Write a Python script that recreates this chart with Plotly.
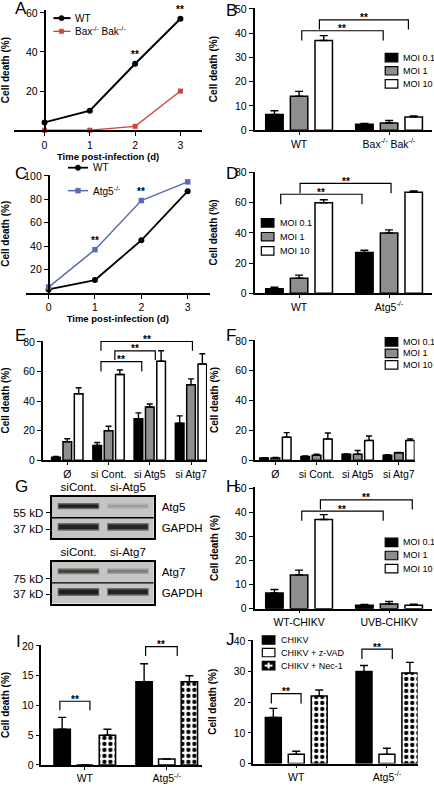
import plotly.graph_objects as go

W, H = 434, 787
FONT = "Liberation Sans, Arial, Helvetica, sans-serif"

# ---------------- data ----------------
time_days = [0, 1, 2, 3]
a_wt = [4, 10, 34, 57]
a_baxbak = [0, 0, 2, 20]
a_sig_days = [2, 3]
c_wt = [3, 11, 45, 87]
c_atg5 = [5, 37, 79, 95]
c_sig_days = [1, 2]

moi_labels = ["MOI 0.1", "MOI 1", "MOI 10"]

b_groups = ["WT", "Bax<sup>-/-</sup> Bak<sup>-/-</sup>"]
b_vals = [[6.5, 2.5], [14, 3], [37, 5.5]]
b_err = [[1.5, 0.3], [2, 1], [2, 0.4]]

d_groups = ["WT", "Atg5<sup>-/-</sup>"]
d_vals = [[3, 27], [10, 40], [60, 67]]
d_err = [[1, 1.5], [2, 2], [2, 0.8]]

e_groups = ["Ø", "si Cont.", "si Atg5", "si Atg7"]
e_vals = [[2, 10, 28, 25], [12.5, 20, 36, 51], [45, 58, 67, 65]]
e_err = [[0.5, 2, 4, 5], [2, 3, 2, 4], [4, 3, 7, 7]]

f_groups = ["Ø", "si Cont.", "si Atg5", "si Atg7"]
f_vals = [[1.5, 2.5, 4, 3.3], [1.5, 3.3, 4, 5], [15.5, 14.3, 13.3, 13.3]]
f_err = [[0.2, 0.4, 0.2, 0.4], [0.3, 0.7, 2.5, 0.2], [3, 4, 3, 1]]

h_groups = ["WT-CHIKV", "UVB-CHIKV"]
h_vals = [[6.5, 1.5], [14, 2], [37, 1.5]]
h_err = [[1.5, 0.3], [2, 1], [2, 0.4]]

trt_labels = ["CHIKV", "CHIKV + z-VAD", "CHIKV + Nec-1"]
i_groups = ["WT", "Atg5<sup>-/-</sup>"]
i_vals = [[6, 14], [0, 1], [5, 14]]
i_err = [[2, 3], [0, 0], [1, 1]]
j_groups = ["WT", "Atg5<sup>-/-</sup>"]
j_vals = [[15, 30], [3, 3], [22, 29.5]]
j_err = [[3, 2], [1, 2], [2, 3.5]]

# significance brackets: (x_left, x_right, y_top, y_foot) in data units
b_brackets = [(0.03, 0.935, 41.0, 37.0), (0.226, 1.215, 45.5, 41.5)]
d_brackets = [(-0.204, 0.699, 65.6, 59.0), (0.011, 1.022, 72.8, 66.3)]
e_brackets = [(0.816, 3.035, 80.3, 74.0), (1.153, 2.134, 74.0, 67.8), (0.816, 1.805, 66.7, 60.0)]
h_brackets = [(0.03, 0.935, 40.5, 36.5), (0.237, 1.258, 45.1, 41.1)]
i_brackets = [(-0.304, 0.063, 10.7, 9.2), (0.742, 1.128, 19.9, 18.3)]
j_brackets = [(-0.275, 0.053, 22.8, 19.6), (0.724, 1.059, 37.3, 34.1)]

# western blots (G)
g1_lanes = ["siCont.", "si-Atg5"]
g1_rows = ["Atg5", "GAPDH"]
g1_markers = ["55 kD", "37 kD"]
g1_marker_pos = [0.74, -0.06]
g1_intensity = [[0.97, 0.22], [0.95, 0.93]]   # rows x lanes
g2_lanes = ["siCont.", "si-Atg7"]
g2_rows = ["Atg7", "GAPDH"]
g2_markers = ["75 kD", "37 kD"]
g2_marker_pos = [0.70, -0.06]
g2_intensity = [[0.78, 0.42], [0.97, 0.95]]

# ---------------- styling helpers ----------------
def xd(p0, p1):
    return [p0 / W, p1 / W]

def yd(top, bot):
    return [1 - bot / H, 1 - top / H]

def px(p):
    return p / W

def py(p):
    return 1 - p / H

AXL = dict(showline=True, linecolor="black", linewidth=1.5, showgrid=False, zeroline=False,
           ticks="outside", tickcolor="black", tickwidth=1.3, fixedrange=True,
           tickfont=dict(family=FONT, size=10.5, color="black"))
YTITLE = dict(text="Cell death (%)", font=dict(family=FONT, size=10, color="black", weight="bold"))
XTITLE = dict(text="Time post-infection (d)", standoff=3,
              font=dict(family=FONT, size=9.5, color="black", weight="bold"))

fig = go.Figure()
lay = {}
shapes = []
annotations = []

BAR_FILLS = ["#000000", "#8e8e8e", "#ffffff"]
STAR_FONT = dict(family=FONT, size=10, color="black", weight="bold")


def add_bars(n, groups, vals, errs, bw, centers, fills, capw=4, pattern_idx=None):
    xs = list(range(len(groups)))
    for k in range(len(vals)):
        marker = dict(color=fills[k], line=dict(color="black", width=1.5))
        if pattern_idx is not None and k == pattern_idx:
            marker["pattern"] = dict(shape=".", fgcolor="black", bgcolor="white", size=6,
                                     solidity=0.4, fillmode="replace")
        fig.add_trace(go.Bar(
            x=xs, y=vals[k], width=bw, offset=centers[k] - bw / 2,
            marker=marker,
            error_y=dict(type="data", array=errs[k], arrayminus=[0] * len(xs), symmetric=False,
                         color="black", thickness=1.4, width=capw),
            xaxis="x" + str(n), yaxis="y" + str(n), showlegend=False, hoverinfo="skip"))


def add_brackets(n, brackets):
    for (x0, x1, yt, yf) in brackets:
        shapes.append(dict(type="path", xref="x" + str(n), yref="y" + str(n),
                           path=f"M {x0},{yf} L {x0},{yt} L {x1},{yt} L {x1},{yf}",
                           line=dict(color="black", width=1.2)))
        annotations.append(dict(text="**", x=(x0 + x1) / 2, y=yt, xref="x" + str(n), yref="y" + str(n),
                                showarrow=False, xanchor="center", yanchor="middle", yshift=2,
                                font=STAR_FONT))


def bar_legend(labels, fills, x_sw, ys, x_txt, special_last=False):
    for i, (lab, fill, yc) in enumerate(zip(labels, fills, ys)):
        shapes.append(dict(type="rect", xref="paper", yref="paper", x0=px(x_sw), x1=px(x_sw + 13),
                           y0=py(yc + 4.3), y1=py(yc - 4.3), fillcolor=fill,
                           line=dict(color="black", width=1.2)))
        if special_last and i == len(labels) - 1:
            shapes.append(dict(type="line", xref="paper", yref="paper", x0=px(x_sw + 2.5), x1=px(x_sw + 10.5),
                               y0=py(yc), y1=py(yc), line=dict(color="white", width=2)))
            shapes.append(dict(type="line", xref="paper", yref="paper", x0=px(x_sw + 6.5), x1=px(x_sw + 6.5),
                               y0=py(yc + 3), y1=py(yc - 3), line=dict(color="white", width=2)))
        annotations.append(dict(text=lab, x=px(x_txt), y=py(yc), xref="paper", yref="paper",
                                xanchor="left", yanchor="middle", showarrow=False,
                                font=dict(family=FONT, size=9, color="black")))


def line_legend(entries, x0, x1, xm, x_txt):
    for (lab, color, width, symbol, yc, msize) in entries:
        shapes.append(dict(type="line", xref="paper", yref="paper", x0=px(x0), x1=px(x1),
                           y0=py(yc), y1=py(yc), line=dict(color=color, width=width)))
        r = msize / 2
        shapes.append(dict(type="circle" if symbol == "circle" else "rect", xref="paper", yref="paper",
                           x0=px(xm - r), x1=px(xm + r), y0=py(yc + r), y1=py(yc - r),
                           fillcolor=color, line=dict(color=color, width=0.5)))
        annotations.append(dict(text=lab, x=px(x_txt), y=py(yc), xref="paper", yref="paper",
                                xanchor="left", yanchor="middle", showarrow=False,
                                font=dict(family=FONT, size=10, color="black")))


# ---------------- A ----------------
lay["xaxis"] = dict(AXL, domain=xd(1, 195), range=[-0.675, 3.48], anchor="y", tickvals=time_days,
                    ticklen=4, title=XTITLE)
lay["yaxis"] = dict(AXL, domain=yd(5, 127), range=[0, 61.5], anchor="free", position=px(32.5),
                    tickvals=[20, 40, 60], ticklen=4, title=YTITLE)
fig.add_trace(go.Scatter(x=time_days, y=a_wt, mode="lines+markers", line=dict(color="black", width=2),
                         marker=dict(symbol="circle", size=6, color="black"), cliponaxis=False,
                         xaxis="x", yaxis="y", showlegend=False))
fig.add_trace(go.Scatter(x=time_days, y=a_baxbak, mode="lines+markers", line=dict(color="#d6403a", width=1.3),
                         marker=dict(symbol="square", size=5, color="#d6403a"), cliponaxis=False,
                         xaxis="x", yaxis="y", showlegend=False))
for d in a_sig_days:
    annotations.append(dict(text="**", x=d, y=a_wt[time_days.index(d)], xref="x", yref="y", showarrow=False,
                            yanchor="middle", yshift=9, font=STAR_FONT))
line_legend([("WT", "black", 2, "circle", 13.3, 5.5),
             ("Bax<sup>-/-</sup> Bak<sup>-/-</sup>", "#d6403a", 1.3, "square", 26.7, 4.5)],
            41.7, 59.3, 50, 62)

# ---------------- C ----------------
lay["xaxis3"] = dict(AXL, domain=xd(13, 203), range=[-0.496, 3.48], anchor="y3", tickvals=time_days,
                     ticklen=4, title=XTITLE)
lay["yaxis3"] = dict(AXL, domain=yd(172, 292), range=[0, 101.2], anchor="free", position=px(36.7),
                     tickvals=[20, 40, 60, 80, 100], ticklen=4, title=YTITLE)
fig.add_trace(go.Scatter(x=time_days, y=c_wt, mode="lines+markers", line=dict(color="black", width=1.8),
                         marker=dict(symbol="circle", size=6, color="black"), cliponaxis=False,
                         xaxis="x3", yaxis="y3", showlegend=False))
fig.add_trace(go.Scatter(x=time_days, y=c_atg5, mode="lines+markers", line=dict(color="#5c6bb5", width=1.5),
                         marker=dict(symbol="square", size=5.5, color="#5c6bb5"), cliponaxis=False,
                         xaxis="x3", yaxis="y3", showlegend=False))
for d in c_sig_days:
    annotations.append(dict(text="**", x=d, y=c_atg5[time_days.index(d)], xref="x3", yref="y3", showarrow=False,
                            yanchor="middle", yshift=9, font=STAR_FONT))
line_legend([("WT", "black", 1.8, "circle", 165, 5.5),
             ("Atg5<sup>-/-</sup>", "#5c6bb5", 1.5, "square", 188.3, 5)],
            56.7, 77.3, 67, 80)

# ---------------- B ----------------
BC3 = [-0.274, 0.0, 0.274]
lay["xaxis2"] = dict(AXL, domain=xd(249, 432), range=[-0.495, 1.478], anchor="y2", tickvals=[0, 1],
                     ticktext=b_groups, ticklen=3)
lay["yaxis2"] = dict(AXL, domain=yd(3, 127), range=[0, 50.4], anchor="x2", tickvals=[0, 10, 20, 30, 40, 50],
                     ticklen=4, title=YTITLE)
add_bars(2, b_groups, b_vals, b_err, 0.194, BC3, BAR_FILLS)
add_brackets(2, b_brackets)
bar_legend(moi_labels, BAR_FILLS, 383.7, [53.3, 66.7, 80], 400)

# ---------------- D ----------------
lay["xaxis4"] = dict(AXL, domain=xd(249, 432), range=[-0.495, 1.478], anchor="y4", tickvals=[0, 1],
                     ticktext=d_groups, ticklen=3)
lay["yaxis4"] = dict(AXL, domain=yd(169, 292.3), range=[0, 80.6], anchor="x4", tickvals=[0, 20, 40, 60, 80],
                     ticklen=4, title=YTITLE)
add_bars(4, d_groups, d_vals, d_err, 0.194, BC3, BAR_FILLS)
add_brackets(4, d_brackets)
bar_legend(moi_labels, BAR_FILLS, 256, [221, 235, 249.3], 273)

# ---------------- E ----------------
EC3 = [-0.275, 0.0, 0.275]
lay["xaxis5"] = dict(AXL, domain=xd(30.7, 200), range=[-0.595, 3.388], anchor="y5", tickvals=[0, 1, 2, 3],
                     ticktext=e_groups, ticklen=3)
lay["yaxis5"] = dict(AXL, domain=yd(340.5, 461.7), range=[0, 80.8], anchor="x5", tickvals=[0, 20, 40, 60, 80],
                     ticklen=4, title=YTITLE)
add_bars(5, e_groups, e_vals, e_err, 0.21, EC3, BAR_FILLS, capw=3)
add_brackets(5, e_brackets)

# ---------------- F ----------------
lay["xaxis6"] = dict(AXL, domain=xd(249.3, 414), range=[-0.5, 3.384], anchor="y6", tickvals=[0, 1, 2, 3],
                     ticktext=f_groups, ticklen=3)
lay["yaxis6"] = dict(AXL, domain=yd(339.5, 461.7), range=[0, 80.8], anchor="x6", tickvals=[0, 20, 40, 60, 80],
                     ticklen=4, title=YTITLE)
add_bars(6, f_groups, f_vals, f_err, 0.21, EC3, BAR_FILLS, capw=3)
bar_legend(moi_labels, BAR_FILLS, 383.7, [341.7, 353.3, 365], 400)

# ---------------- G (blots) ----------------
BG = (197, 197, 197)
DARK = (26, 26, 20)


def band_color(t):
    c = [round(BG[i] + (DARK[i] - BG[i]) * t) for i in range(3)]
    return f"rgb({c[0]},{c[1]},{c[2]})"


def add_blot(nx, ny, nr, top, bot, lanes, rows, markers, marker_pos, intensity, thick):
    lay["xaxis" + str(nx)] = dict(showline=True, mirror=True, linecolor="black", linewidth=1.5,
                                  showgrid=False, zeroline=False, ticks="", side="top",
                                  domain=xd(40, 145), range=[-0.539, 1.52], anchor="y" + str(ny),
                                  tickvals=list(range(len(lanes))), ticktext=lanes, fixedrange=True,
                                  tickfont=dict(family=FONT, size=11.5, color="black"))
    lay["yaxis" + str(ny)] = dict(showline=True, mirror=True, linecolor="black", linewidth=1.5,
                                  showgrid=False, zeroline=False, ticks="outside", ticklen=4.5, tickwidth=1.3,
                                  tickcolor="black", domain=yd(top, bot), range=[-0.5, 1.5],
                                  anchor="x" + str(nx), tickvals=marker_pos, ticktext=markers, fixedrange=True,
                                  tickfont=dict(family=FONT, size=11.5, color="black"))
    lay["yaxis" + str(nr)] = dict(overlaying="y" + str(ny), side="right", anchor="x" + str(nx),
                                  showline=False, showgrid=False, zeroline=False, ticks="",
                                  range=[-0.5, 1.5], tickvals=[1, 0], ticktext=rows, fixedrange=True,
                                  ticklabelstandoff=7,
                                  tickfont=dict(family=FONT, size=11.5, color="black"))
    fig.add_trace(go.Scatter(x=[None], y=[None], xaxis="x" + str(nx), yaxis="y" + str(nr),
                             showlegend=False, hoverinfo="skip"))
    shapes.append(dict(type="rect", xref="x" + str(nx) + " domain", yref="y" + str(ny) + " domain",
                       x0=0, x1=1, y0=0, y1=1, fillcolor="rgb(197,197,197)", line=dict(width=0),
                       layer="below"))
    shapes.append(dict(type="line", xref="x" + str(nx) + " domain", yref="y" + str(ny), x0=0, x1=1,
                       y0=0.5, y1=0.5, line=dict(color="black", width=1.3)))
    for r_i, row in enumerate(intensity):
        yrow = 1 - r_i + 0.06
        for l_i, t in enumerate(row):
            w = thick[r_i] * (0.55 + 0.45 * t)
            fig.add_trace(go.Scatter(x=[l_i - 0.42, l_i + 0.42], y=[yrow, yrow], mode="lines",
                                     line=dict(color=band_color(t * 0.55), width=w + 3),
                                     xaxis="x" + str(nx), yaxis="y" + str(ny), showlegend=False,
                                     hoverinfo="skip"))
            fig.add_trace(go.Scatter(x=[l_i - 0.40, l_i + 0.40], y=[yrow, yrow], mode="lines",
                                     line=dict(color=band_color(t), width=w),
                                     xaxis="x" + str(nx), yaxis="y" + str(ny), showlegend=False,
                                     hoverinfo="skip"))


add_blot(7, 7, 12, 499, 541, g1_lanes, g1_rows, g1_markers, g1_marker_pos, g1_intensity, [3.5, 5])
add_blot(8, 8, 13, 565, 607, g2_lanes, g2_rows, g2_markers, g2_marker_pos, g2_intensity, [3.5, 5])

# ---------------- H ----------------
lay["xaxis9"] = dict(AXL, domain=xd(249, 432), range=[-0.495, 1.478], anchor="y9", tickvals=[0, 1],
                     ticktext=h_groups, ticklen=3)
lay["yaxis9"] = dict(AXL, domain=yd(489, 612.3), range=[0, 50.4], anchor="x9", tickvals=[0, 10, 20, 30, 40, 50],
                     ticklen=4, title=YTITLE)
add_bars(9, h_groups, h_vals, h_err, 0.194, BC3, BAR_FILLS)
add_brackets(9, h_brackets)
bar_legend(moi_labels, BAR_FILLS, 383.7, [545, 558.3, 571.7], 400)

# ---------------- I ----------------
TRT_FILLS = ["#000000", "#ffffff", "#ffffff"]
IC3 = [-0.276, 0.0, 0.276]
lay["xaxis10"] = dict(AXL, domain=xd(29.3, 195), range=[-0.529, 1.432], anchor="y10", tickvals=[0, 1],
                      ticktext=i_groups, ticklen=3)
lay["yaxis10"] = dict(AXL, domain=yd(649, 770.7), range=[0, 20.17], anchor="x10", tickvals=[0, 5, 10, 15, 20],
                      ticklen=4, title=YTITLE)
add_bars(10, i_groups, i_vals, i_err, 0.2, IC3, TRT_FILLS, pattern_idx=2)
add_brackets(10, i_brackets)

# ---------------- J ----------------
JC3 = [-0.253, 0.0, 0.253]
lay["xaxis11"] = dict(AXL, domain=xd(247.7, 417), range=[-0.474, 1.337], anchor="y11", tickvals=[0, 1],
                      ticktext=j_groups, ticklen=3)
lay["yaxis11"] = dict(AXL, domain=yd(644, 769.3), range=[0, 40.3], anchor="x11", tickvals=[0, 10, 20, 30, 40],
                      ticklen=4, title=YTITLE)
add_bars(11, j_groups, j_vals, j_err, 0.176, JC3, TRT_FILLS, pattern_idx=2)
add_brackets(11, j_brackets)
bar_legend(trt_labels, ["#000000", "#ffffff", "#000000"], 257, [644, 656.7, 670], 273.7, special_last=True)

# ---------------- panel letters ----------------
panel_letters = ["A", "B", "C", "D", "E", "F", "G", "H", "I", "J"]
letter_pos = [(0, 0), (217, 2), (0, 167), (217, 167), (0, 332), (217, 332), (0, 485), (217, 485),
              (1, 642), (217, 640)]
for L, (lx, ly) in zip(panel_letters, letter_pos):
    annotations.append(dict(text=L, x=px(lx), y=py(ly - 8), xref="paper", yref="paper", xanchor="left",
                            yanchor="top", showarrow=False, font=dict(family=FONT, size=17, color="black")))

fig.update_layout(width=W, height=H, margin=dict(l=0, r=0, t=0, b=0), paper_bgcolor="white",
                  plot_bgcolor="rgba(0,0,0,0)", showlegend=False, barmode="overlay",
                  font=dict(family=FONT, color="black"), shapes=shapes, annotations=annotations, **lay)
fig.write_html("out.html", config={"displayModeBar": False},
               post_script="document.body.style.margin='0';document.body.style.overflow='hidden';")
